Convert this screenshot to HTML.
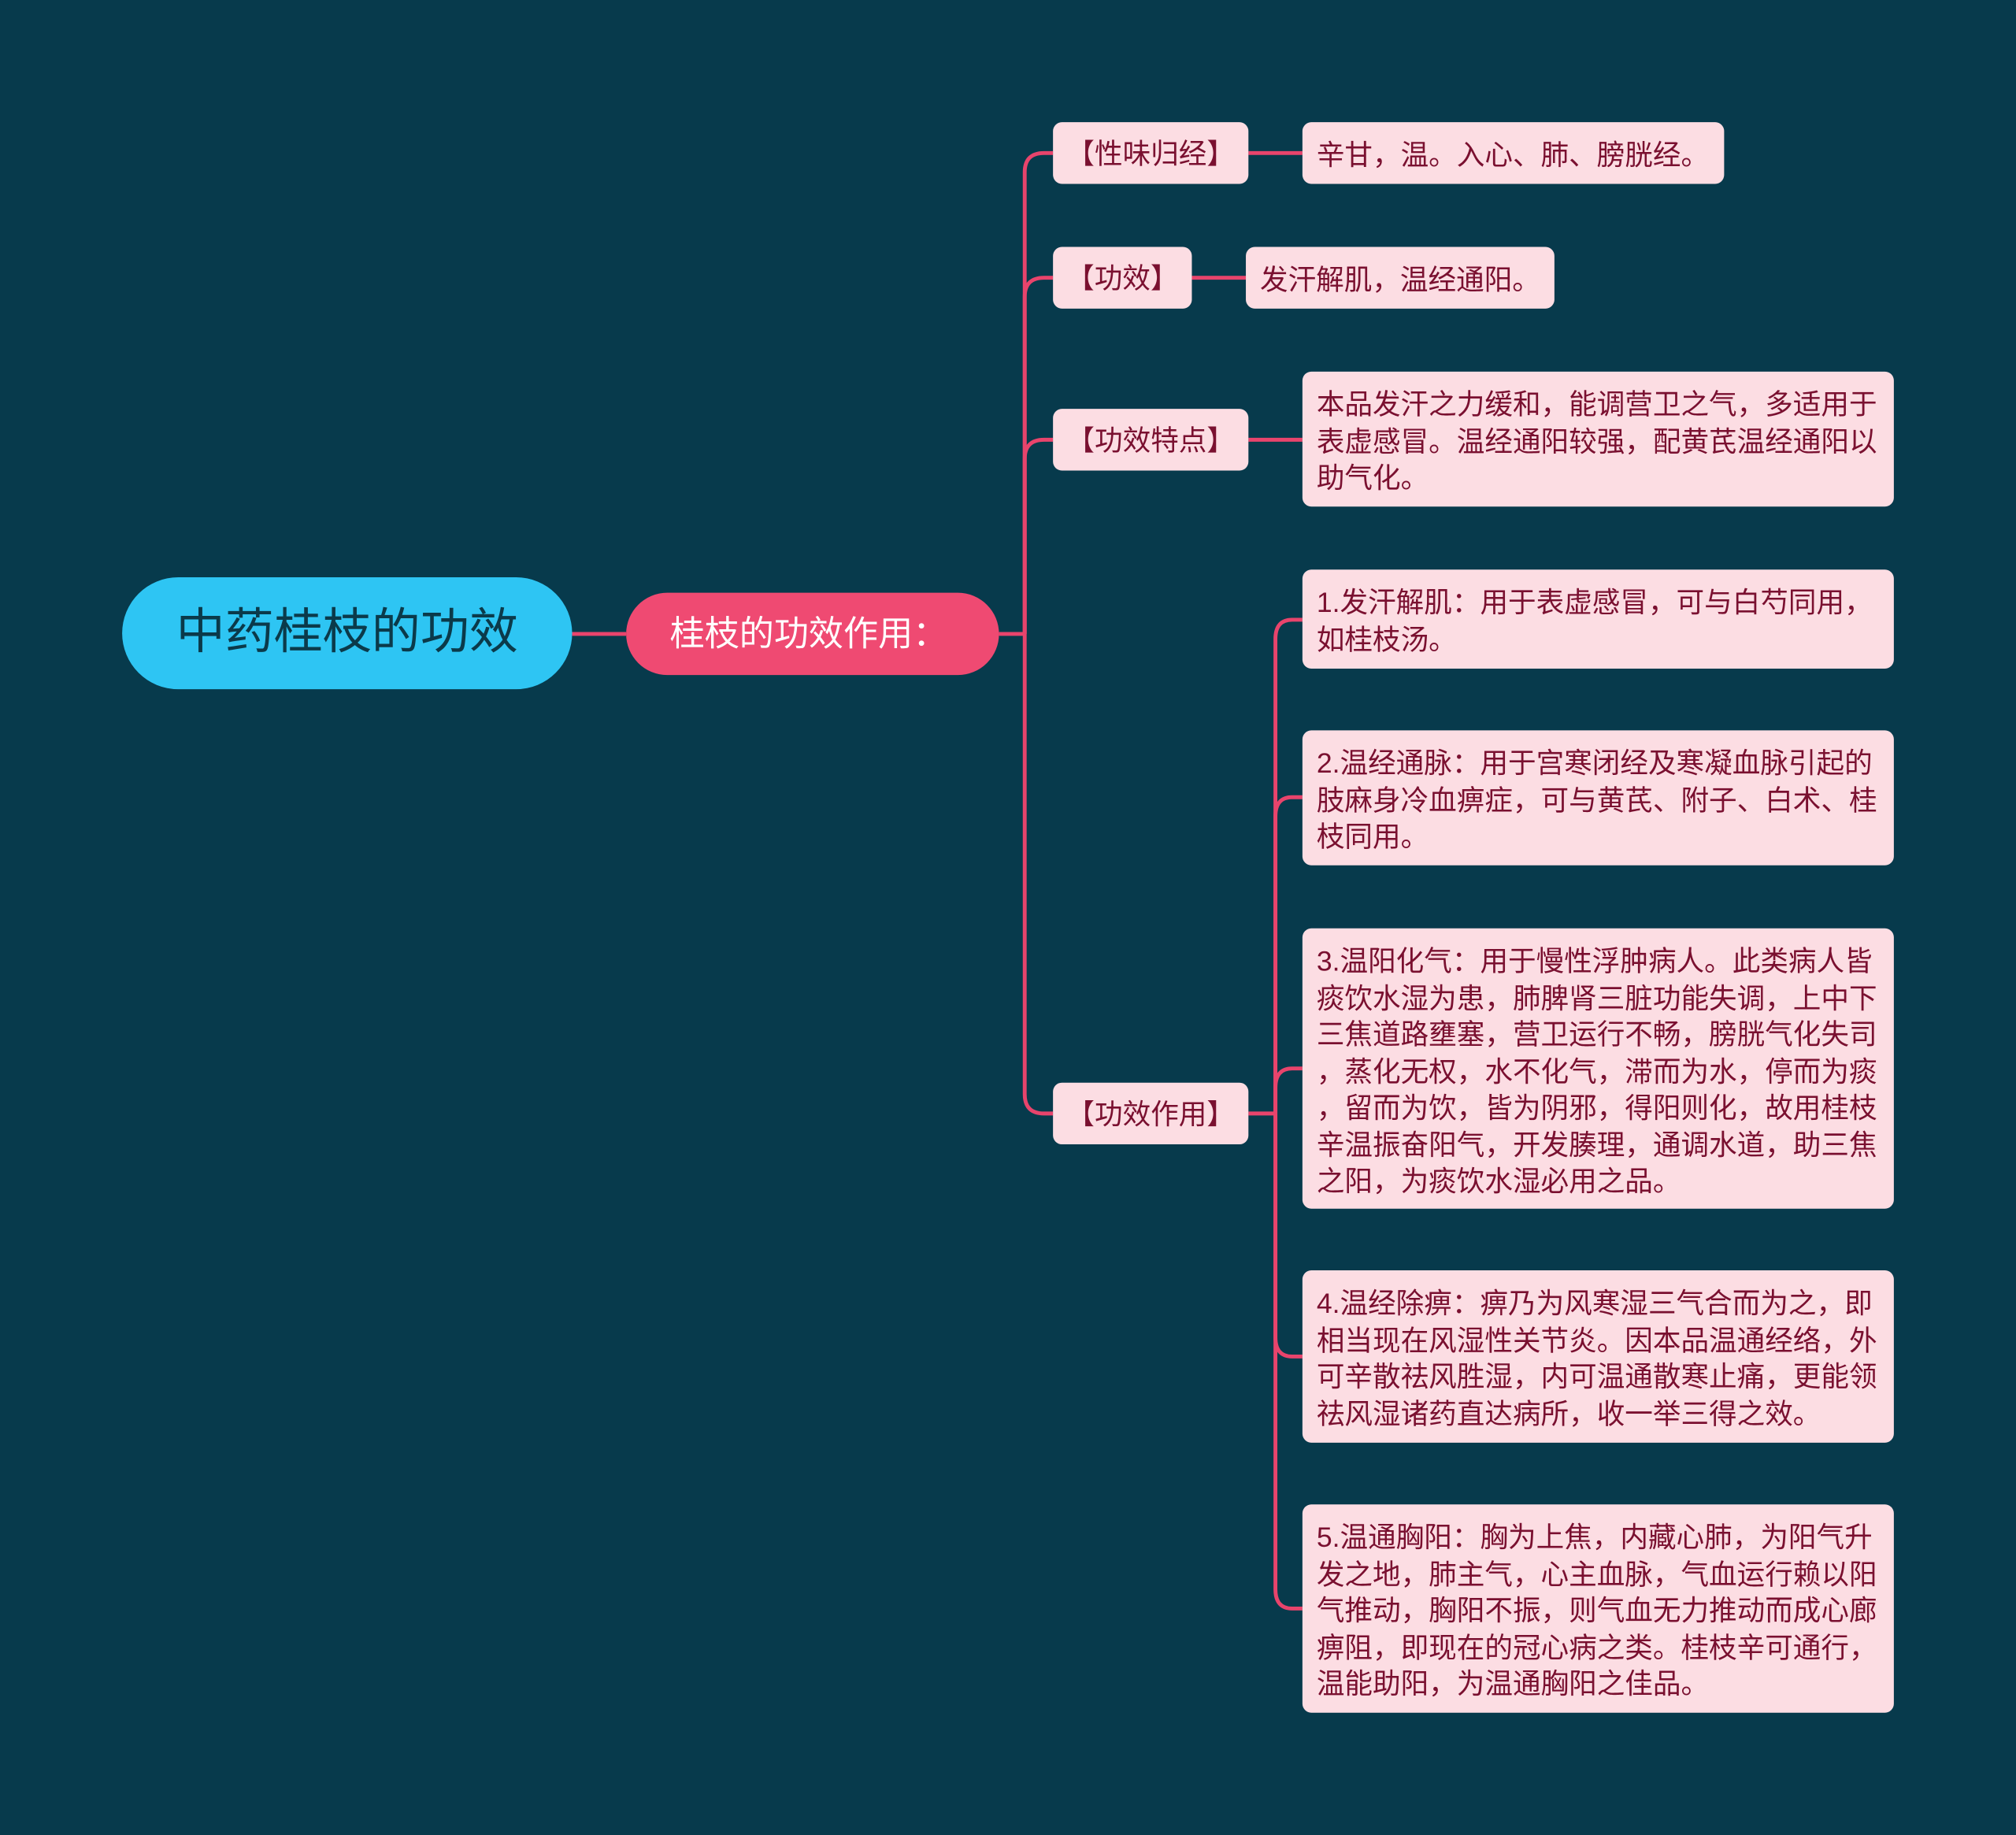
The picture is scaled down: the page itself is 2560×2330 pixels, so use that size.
<!DOCTYPE html>
<html><head><meta charset="utf-8"><style>
html,body{margin:0;padding:0;background:#073a4c;width:2560px;height:2329px;overflow:hidden}
#w{position:absolute;left:0;top:0;width:1568px;height:1427px;transform:scale(1.63265);transform-origin:0 0;font-family:"Liberation Sans","Noto Sans CJK SC",sans-serif}
.n{position:absolute;box-sizing:border-box;background:#fcdde3;color:#7a1030;border-radius:7px;font-size:21.8px;line-height:28.5px;white-space:nowrap}
.l2{text-align:center;line-height:50px;height:48px}
.lf{padding:12px 0 0 11px}
</style></head><body><div id="w">
<svg width="1568" height="1427" style="position:absolute;left:0;top:0" fill="none" stroke="#e8446c" stroke-width="3">
<path d="M445 493H487M777 493H797"/>
<path d="M797 493V134Q797 119 812 119H819"/>
<path d="M797 493V231Q797 216 812 216H819"/>
<path d="M797 493V357Q797 342 812 342H819"/>
<path d="M797 493V851Q797 866 812 866H819"/>
<path d="M971 119H1013M927 216H969M971 342H1013M971 866H992"/>
<path d="M992 866V497Q992 482 1005 482H1013"/>
<path d="M992 866V635Q992 620 1005 620H1013"/>
<path d="M992 866V846Q992 831 1005 831H1013"/>
<path d="M992 866V1040Q992 1055 1005 1055H1013"/>
<path d="M992 866V1236Q992 1251 1005 1251H1013"/>
</svg>
<div style="position:absolute;left:95px;top:449px;width:350px;height:87px;border-radius:44px;background:#2ec5f3;color:#0b3a4a;font-size:38px;line-height:87px;text-align:center">中药桂枝的功效</div>
<div style="position:absolute;left:487px;top:461px;width:290px;height:64px;border-radius:32px;background:#ef4a72;color:#fff;font-size:27px;line-height:64px;text-align:center;box-sizing:border-box;padding-right:6px">桂枝的功效作用：</div>
<div class="n l2" style="left:819px;top:95px;width:152px">【性味归经】</div>
<div class="n l2" style="left:819px;top:192px;width:108px">【功效】</div>
<div class="n l2" style="left:819px;top:318px;width:152px">【功效特点】</div>
<div class="n l2" style="left:819px;top:842px;width:152px">【功效作用】</div>
<div class="n lf" style="left:1013px;top:95px;width:328px;height:48px">辛甘，温。入心、肺、膀胱经。</div>
<div class="n lf" style="left:969px;top:192px;width:240px;height:48px">发汗解肌，温经通阳。</div>
<div class="n lf" style="left:1013px;top:289px;width:460px;height:105px">本品发汗之力缓和，能调营卫之气，多适用于<br>表虚感冒。温经通阳较强，配黄芪温经通阳以<br>助气化。</div>
<div class="n lf" style="left:1013px;top:443px;width:460px;height:77px">1.发汗解肌：用于表虚感冒，可与白芍同用，<br>如桂枝汤。</div>
<div class="n lf" style="left:1013px;top:568px;width:460px;height:105px">2.温经通脉：用于宫寒闭经及寒凝血脉引起的<br>肢麻身冷血痹症，可与黄芪、附子、白术、桂<br>枝同用。</div>
<div class="n lf" style="left:1013px;top:722px;width:460px;height:218px">3.温阳化气：用于慢性浮肿病人。此类病人皆<br>痰饮水湿为患，肺脾肾三脏功能失调，上中下<br>三焦道路壅塞，营卫运行不畅，膀胱气化失司<br>，蒸化无权，水不化气，滞而为水，停而为痰<br>，留而为饮，皆为阴邪，得阳则化，故用桂枝<br>辛温振奋阳气，开发腠理，通调水道，助三焦<br>之阳，为痰饮水湿必用之品。</div>
<div class="n lf" style="left:1013px;top:988px;width:460px;height:134px">4.温经除痹：痹乃为风寒湿三气合而为之，即<br>相当现在风湿性关节炎。因本品温通经络，外<br>可辛散祛风胜湿，内可温通散寒止痛，更能领<br>祛风湿诸药直达病所，收一举三得之效。</div>
<div class="n lf" style="left:1013px;top:1170px;width:460px;height:162px">5.温通胸阳：胸为上焦，内藏心肺，为阳气升<br>发之地，肺主气，心主血脉，气血运行赖以阳<br>气推动，胸阳不振，则气血无力推动而成心廊<br>痹阻，即现在的冠心病之类。桂枝辛可通行，<br>温能助阳，为温通胸阳之佳品。</div>
</div></body></html>
